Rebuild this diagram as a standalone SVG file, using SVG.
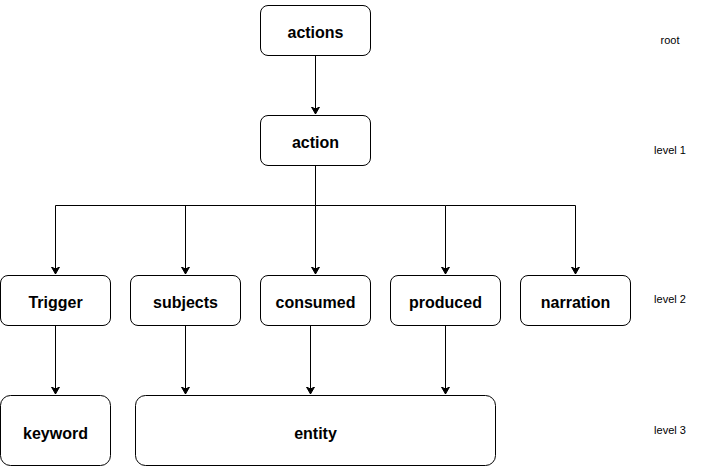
<svg xmlns="http://www.w3.org/2000/svg" width="701" height="466" viewBox="0 0 701 466">
<style>
.box{fill:#fff;stroke:#000;stroke-width:1}
.t{font-family:"Liberation Sans",Arial,sans-serif;font-size:16px;font-weight:bold;text-anchor:middle;fill:#000}
.lv{font-family:"Liberation Sans",Arial,sans-serif;font-size:11px;text-anchor:middle;fill:#000}
.e{fill:none;stroke:#000;stroke-width:1}
</style>
<defs>
<marker id="a" markerWidth="10" markerHeight="10" refX="7" refY="4" orient="auto" markerUnits="userSpaceOnUse" viewBox="0 0 10 8">
<path d="M0,0 L7,4 L0,8 L2,4 Z" fill="#000" stroke="#000" stroke-width="1"/>
</marker>
</defs>
<rect width="701" height="466" fill="#fff"/>
<g id="connectors">
<path class="e" d="M315.5,55.5 V114" marker-end="url(#a)"/>
<path class="e" d="M315.5,165.5 V205.5 H55.5 V274" marker-end="url(#a)"/>
<path class="e" d="M185.5,205.5 V274" marker-end="url(#a)"/>
<path class="e" d="M315.5,205.5 V274" marker-end="url(#a)"/>
<path class="e" d="M315.5,205.5 H445.5 V274" marker-end="url(#a)"/>
<path class="e" d="M445.5,205.5 H575.5 V274" marker-end="url(#a)"/>
<path class="e" d="M55.5,325.5 V394" marker-end="url(#a)"/>
<path class="e" d="M185.5,325.5 V394" marker-end="url(#a)"/>
<path class="e" d="M310.5,325.5 V394" marker-end="url(#a)"/>
<path class="e" d="M445.5,325.5 V394" marker-end="url(#a)"/>
</g>
<g id="actions"><rect class="box" x="260.5" y="5.5" width="110" height="50" rx="7.5"/><text class="t" x="315.5" y="37.5">actions</text></g>
<g id="action"><rect class="box" x="260.5" y="115.5" width="110" height="50" rx="7.5"/><text class="t" x="315.5" y="147.5">action</text></g>
<g id="trigger"><rect class="box" x="0.5" y="275.5" width="110" height="50" rx="7.5"/><text class="t" x="55.5" y="307.5">Trigger</text></g>
<g id="subjects"><rect class="box" x="130.5" y="275.5" width="110" height="50" rx="7.5"/><text class="t" x="185.5" y="307.5">subjects</text></g>
<g id="consumed"><rect class="box" x="260.5" y="275.5" width="110" height="50" rx="7.5"/><text class="t" x="315.5" y="307.5">consumed</text></g>
<g id="produced"><rect class="box" x="390.5" y="275.5" width="110" height="50" rx="7.5"/><text class="t" x="445.5" y="307.5">produced</text></g>
<g id="narration"><rect class="box" x="520.5" y="275.5" width="110" height="50" rx="7.5"/><text class="t" x="575.5" y="307.5">narration</text></g>
<g id="keyword"><rect class="box" x="0.5" y="395.5" width="110" height="70" rx="10"/><text class="t" x="55.5" y="438.5">keyword</text></g>
<g id="entity"><rect class="box" x="135.5" y="395.5" width="360" height="70" rx="10"/><text class="t" x="315.5" y="438.5">entity</text></g>
<g id="levels">
<text class="lv" x="670" y="44">root</text>
<text class="lv" x="670" y="154">level 1</text>
<text class="lv" x="670" y="303">level 2</text>
<text class="lv" x="670" y="434">level 3</text>
</g>
</svg>
